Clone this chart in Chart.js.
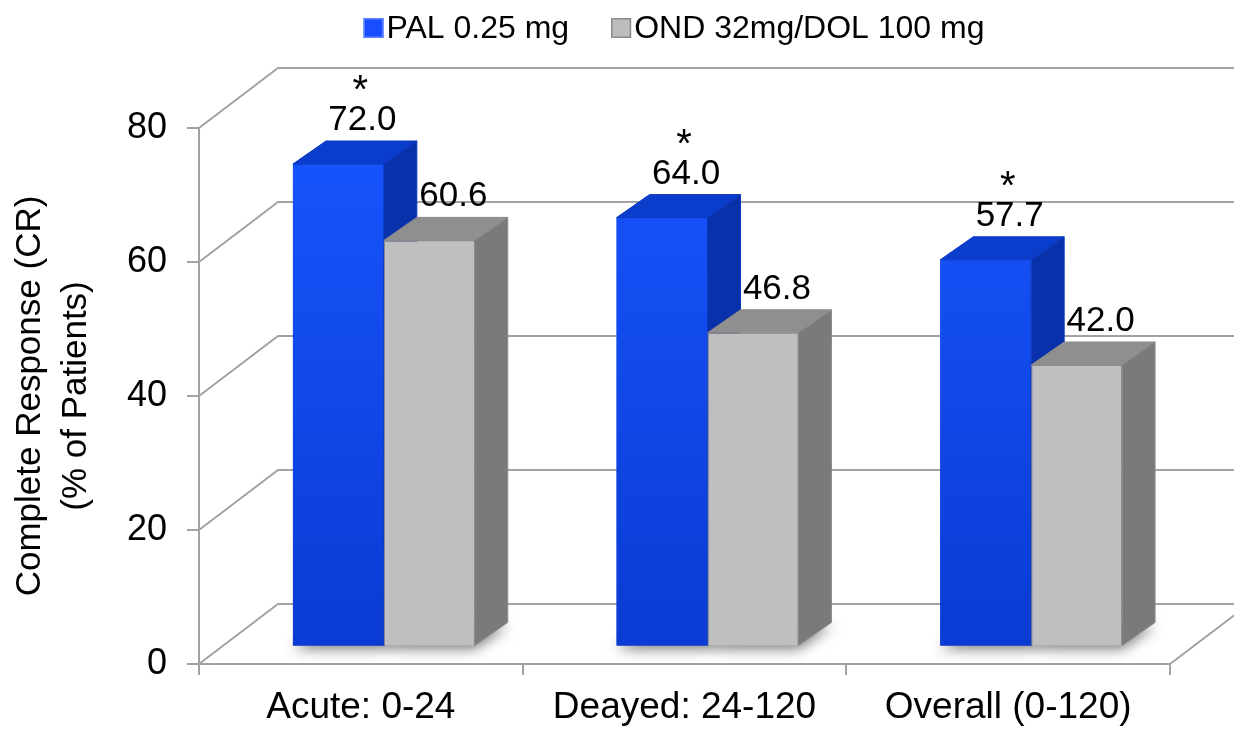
<!DOCTYPE html>
<html>
<head>
<meta charset="utf-8">
<script src="https://cdn.jsdelivr.net/npm/chart.js@4.4.0/dist/chart.umd.min.js"></script>
<style>
body { margin: 0; background: #fff; }
#wrap { width: 1234px; height: 733px; }
</style>
</head>
<body>
<div id="wrap"><canvas id="chart"></canvas></div>
<script>
const categories = ['Acute: 0-24', 'Deayed: 24-120', 'Overall (0-120)'];
const seriesNames = ['PAL 0.25 mg', 'OND 32mg/DOL 100 mg'];
const palValues = [72.0, 64.0, 57.7];
const ondValues = [60.6, 46.8, 42.0];
const palStar = [true, true, true];
const yTicks = [0, 20, 40, 60, 80];

const FONT = '"Liberation Sans", Arial, sans-serif';
const WALL = { dx: 79, dy: -60 };       // back wall depth
const SHIFT = { dx: 23, dy: -17.6 };    // bar front plane
const DEPTH = { dx: 33, dy: -23 };      // bar depth

const faces = [
  { top: '#0a3dcb', side: '#0931ab', edge: '#0a38c0' },
  { top: '#8f8f8f', side: '#7a7a7a', edge: '#8a8a8a' }
];

function blueFront(c) {
  const a = c.chart.chartArea;
  if (!a) return '#1450f5';
  const g = c.chart.ctx.createLinearGradient(0, a.top, 0, a.bottom);
  g.addColorStop(0, '#1856ff');
  g.addColorStop(1, '#0a3bd3');
  return g;
}

function poly(ctx, pts, fill, stroke) {
  ctx.beginPath();
  ctx.moveTo(pts[0][0], pts[0][1]);
  for (let i = 1; i < pts.length; i++) ctx.lineTo(pts[i][0], pts[i][1]);
  ctx.closePath();
  ctx.fillStyle = fill;
  ctx.fill();
  if (stroke) { ctx.strokeStyle = stroke; ctx.lineWidth = 1; ctx.stroke(); }
}

const depthPlugin = {
  id: 'depth',
  beforeDatasetsDraw(chart) {
    const ctx = chart.ctx, y = chart.scales.y, area = chart.chartArea;
    // left and back walls
    ctx.save();
    ctx.strokeStyle = '#a3a3a3';
    ctx.lineWidth = 2;
    yTicks.forEach(v => {
      const py = y.getPixelForValue(v);
      ctx.beginPath();
      ctx.moveTo(area.left, py);
      ctx.lineTo(area.left + WALL.dx, py + WALL.dy);
      ctx.lineTo(chart.width + 20, py + WALL.dy);
      ctx.stroke();
    });
    ctx.beginPath();
    ctx.moveTo(area.right, area.bottom);
    ctx.lineTo(area.right + WALL.dx, area.bottom + WALL.dy);
    ctx.stroke();
    ctx.restore();

    // move into the bar plane, restored in afterDatasetsDraw
    ctx.save();
    ctx.translate(SHIFT.dx, SHIFT.dy);
    chart.data.datasets.forEach((ds, i) => {
      chart.getDatasetMeta(i).data.forEach(bar => {
        const x1 = bar.x - bar.width / 2, x2 = bar.x + bar.width / 2, b = bar.base;
        ctx.save();
        ctx.shadowColor = 'rgba(0,0,0,0.55)';
        ctx.shadowBlur = 14;
        ctx.shadowOffsetY = 3;
        poly(ctx, [[x1, b], [x2, b], [x2 + DEPTH.dx, b + DEPTH.dy], [x1 + DEPTH.dx, b + DEPTH.dy]], '#999');
        ctx.restore();
      });
    });
  },
  afterDatasetsDraw(chart) {
    const ctx = chart.ctx;
    const metas = chart.data.datasets.map((ds, i) => chart.getDatasetMeta(i));
    // redraw each group left to right so the faces overlap properly
    categories.forEach((c, j) => {
      metas.forEach((meta, i) => {
        const bar = meta.data[j], f = faces[i];
        const x1 = bar.x - bar.width / 2, x2 = bar.x + bar.width / 2, t = bar.y, b = bar.base;
        bar.draw(ctx);
        poly(ctx, [[x1, t], [x2, t], [x2 + DEPTH.dx, t + DEPTH.dy], [x1 + DEPTH.dx, t + DEPTH.dy]], f.top, f.edge);
        poly(ctx, [[x2, t], [x2 + DEPTH.dx, t + DEPTH.dy], [x2 + DEPTH.dx, b + DEPTH.dy], [x2, b]], f.side, f.edge);
      });
    });

    ctx.fillStyle = '#000';
    ctx.textAlign = 'center';
    ctx.textBaseline = 'alphabetic';
    chart.data.datasets.forEach((ds, i) => {
      metas[i].data.forEach((bar, j) => {
        const cx = bar.x + 24, base = bar.y + DEPTH.dy - 11;
        ctx.font = '35px ' + FONT;
        ctx.fillText(ds.data[j].toFixed(1), cx, base);
        if (i === 0 && palStar[j]) {
          ctx.font = '40px ' + FONT;
          ctx.fillText('*', cx - 2, base - 27);
        }
      });
    });
    ctx.restore();

    // legend
    ctx.save();
    ctx.font = '32px ' + FONT;
    ctx.textBaseline = 'middle';
    ctx.textAlign = 'left';
    const widths = seriesNames.map(s => ctx.measureText(s).width);
    const total = widths.reduce((s, w) => s + w + 23, 0) + 42 * (seriesNames.length - 1);
    let x = 674 - total / 2;
    const boxes = [['#1a4dff', '#5b82ff'], ['#bdbdbd', '#8a8a8a']];
    seriesNames.forEach((s, i) => {
      ctx.fillStyle = boxes[i][0];
      ctx.fillRect(x, 18, 20, 20);
      ctx.strokeStyle = boxes[i][1];
      ctx.lineWidth = 1.5;
      ctx.strokeRect(x + 0.75, 18.75, 18.5, 18.5);
      ctx.fillStyle = '#000';
      ctx.fillText(s, x + 23, 29);
      x += 23 + widths[i] + 42;
    });
    ctx.restore();
  }
};

new Chart(document.getElementById('chart'), {
  type: 'bar',
  data: {
    labels: categories,
    datasets: [
      { label: seriesNames[0], data: palValues, backgroundColor: blueFront, borderWidth: 0 },
      { label: seriesNames[1], data: ondValues, backgroundColor: '#bfbfbf', borderColor: '#8c8c8c', borderWidth: 1 }
    ]
  },
  options: {
    responsive: true,
    maintainAspectRatio: false,
    devicePixelRatio: 1,
    animation: false,
    categoryPercentage: 182 / 324,
    barPercentage: 1,
    layout: { padding: { left: 0, right: 64, top: 128, bottom: 0 } },
    plugins: { legend: { display: false }, tooltip: { enabled: false } },
    scales: {
      x: {
        afterFit(s) { s.height = 69; },
        grid: { drawOnChartArea: false, tickLength: 11, color: '#a3a3a3', lineWidth: 2, offset: true },
        border: { color: '#a3a3a3', width: 2 },
        ticks: { color: '#000', padding: 11, font: { size: 37, family: FONT } }
      },
      y: {
        min: 0,
        max: 80,
        afterFit(s) { s.width = 199; },
        afterBuildTicks(s) { s.ticks = yTicks.map(v => ({ value: v })); },
        grid: { drawOnChartArea: false, tickLength: 12, color: '#a3a3a3', lineWidth: 2 },
        border: { color: '#a3a3a3', width: 2 },
        ticks: { color: '#000', padding: 20, font: { size: 36, family: FONT } },
        title: {
          display: true,
          text: ['Complete Response (CR)', '(% of Patients)'],
          color: '#000',
          padding: { top: 7, bottom: 0 },
          font: { size: 35, family: FONT, lineHeight: 46 / 35 }
        }
      }
    }
  },
  plugins: [depthPlugin]
});
</script>
</body>
</html>
